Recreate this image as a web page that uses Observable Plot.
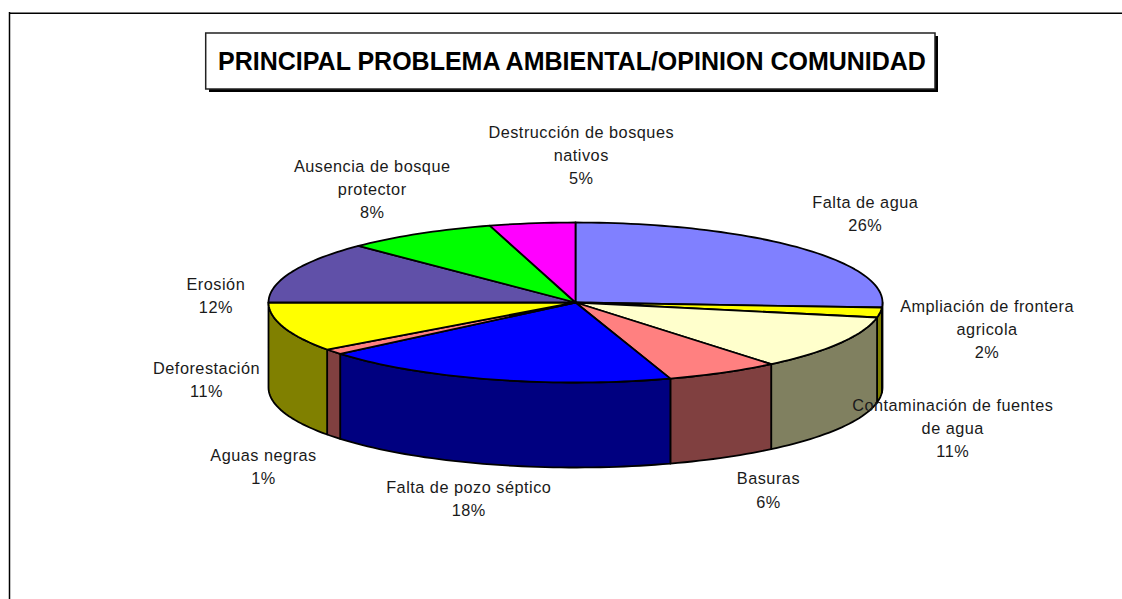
<!DOCTYPE html>
<html><head><meta charset="utf-8">
<style>html,body{margin:0;padding:0;background:#fff}svg{display:block}
g[font-size="16.3"] text{letter-spacing:.5px}</style>
<script src="https://cdn.jsdelivr.net/npm/d3@7"></script>
<script src="https://cdn.jsdelivr.net/npm/@observablehq/plot@0.6"></script>
</head><body><div id="chart"></div>
<script>
const titleText = "PRINCIPAL PROBLEMA AMBIENTAL/OPINION COMUNIDAD";
const categories = ["Falta de agua","Ampliación de frontera\nagricola","Contaminación de fuentes\nde agua","Basuras","Falta de pozo séptico","Aguas negras","Deforestación","Erosión","Ausencia de bosque\nprotector","Destrucción de bosques\nnativos"];
const printedPercents = ["26%","2%","11%","6%","18%","1%","11%","12%","8%","5%"];
const sliceShares = [26,2,11,6,18.9,1.1,10,12.5,8,4.5];
const topColors = ["#8080ff","#ffff00","#ffffcc","#ff8080","#0000ff","#ff8080","#ffff00","#6050a8","#00ff00","#ff00ff"];
const sideColors = ["#404080","#808000","#808060","#804040","#000080","#804040","#808000","#302854","#008000","#800080"];
// label centres relative to the slice's mid-angle rim point (layout)
const labelNudge = [[66,-36],[107,15],[113,83.5],[45,116],[-22,118],[-70,113],[-77,51],[-76,22],[-47,-46],[49,-69.5]];

const layout = {cx:575, cy:302, rx:307, ry:80, depth:85};
const rim = (deg, drop=0) => {
  const t = deg*Math.PI/180;
  return [layout.cx + layout.rx*Math.sin(t), layout.cy - layout.ry*Math.cos(t) + drop];
};
const arc = (a0,a1,drop=0) => {
  const n = Math.max(2, Math.ceil((a1-a0)/1.5));
  return d3.range(n+1).map(i => rim(a0+(a1-a0)*i/n, drop));
};
const ends = d3.cumsum(sliceShares);
const slices = categories.map((name,i)=>({
  name, i, pct: printedPercents[i],
  a0: (i?ends[i-1]:0)*3.6, a1: ends[i]*3.6,
  top: topColors[i], side: sideColors[i]
}));
const faceRows = [], sideRows = [];
for (const s of slices) {
  const ring = arc(s.a0,s.a1);
  [[layout.cx,layout.cy],...ring,[layout.cx,layout.cy]].forEach(([x,y])=>faceRows.push({x,y,key:s.i,fill:s.top}));
  const lo = Math.max(s.a0,90), hi = Math.min(s.a1,270);
  if (hi>lo) {
    const upper = arc(lo,hi), lower = arc(lo,hi,layout.depth).reverse();
    [...upper,...lower,upper[0]].forEach(([x,y])=>sideRows.push({x,y,key:s.i,fill:s.side}));
  }
}
const labelRows = slices.map((s,i)=>{
  const [x,y] = rim((s.a0+s.a1)/2);
  return {x:x+labelNudge[i][0], y:y+labelNudge[i][1], text:s.name+"\n"+s.pct};
});
const plot = Plot.plot({
  width:1122, height:599, margin:0,
  x:{domain:[0,1122],range:[0,1122],axis:null},
  y:{domain:[0,599],range:[0,599],axis:null},
  color:{type:"identity"},
  style:{background:"#fff"},
  marks:[
    Plot.ruleY([12.7],{x1:9,x2:1122,stroke:"#000",strokeWidth:1.5}),
    Plot.ruleX([9],{y1:12,y2:599,stroke:"#000",strokeWidth:1.5}),
    Plot.rect([0],{x1:209,x2:938,y1:36,y2:92,fill:"#000"}),
    Plot.rect([0],{x1:205.7,x2:935,y1:33,y2:89,fill:"#fff",stroke:"#222",strokeWidth:1.5}),
    Plot.text([titleText],{x:571.5,y:61,text:d=>d,fontFamily:"Liberation Sans",fontWeight:"bold",fontSize:25,fill:"#000"}),
    Plot.line(sideRows,{x:"x",y:"y",z:"key",fill:"fill",stroke:"#000",strokeWidth:1.8}),
    Plot.line(faceRows,{x:"x",y:"y",z:"key",fill:"fill",stroke:"#000",strokeWidth:1.8}),
    Plot.text(labelRows,{x:"x",y:"y",text:"text",fontFamily:"Liberation Sans",fontSize:16.3,lineHeight:1.42,fill:"#1a1a1a"})
  ]
});
document.getElementById("chart").append(plot);
</script></body></html>
